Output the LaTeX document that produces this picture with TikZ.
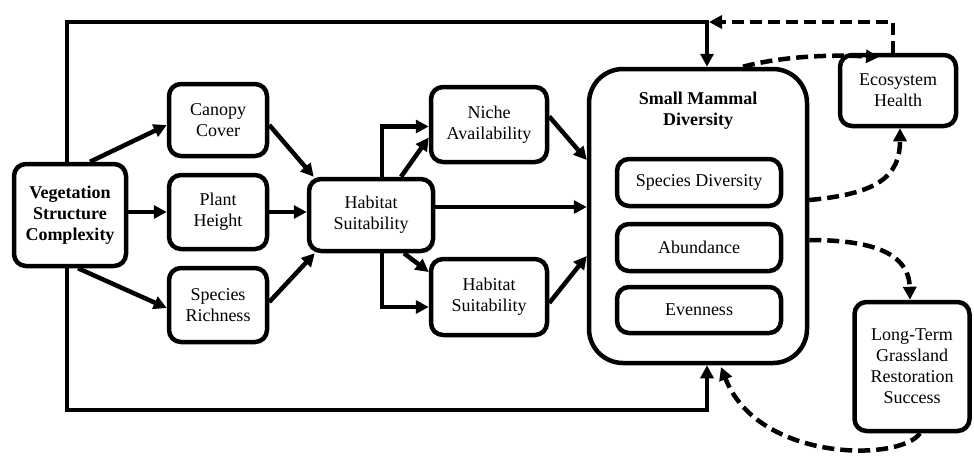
\documentclass[tikz,border=0pt]{standalone}
\usepackage{fontspec}
\setmainfont{Liberation Serif}
\usetikzlibrary{arrows.meta,calc}
\begin{document}
\begin{tikzpicture}[x=1pt,y=-1pt,
  box/.style={draw, line width=4.5pt, rounded corners=12pt, align=center, inner sep=1pt,
    font=\fontsize{18}{21}\selectfont},
  bigbox/.style={draw, line width=4.5pt, rounded corners=34pt},
  arr/.style={line width=4.5pt, -{Triangle[length=13pt,width=13pt]}},
  darr/.style={line width=4.5pt, dash pattern=on 12pt off 6pt, -{Triangle[length=13pt,width=13pt]}},
  title/.style={align=center, font=\fontsize{18}{21}\selectfont\bfseries}
]
\useasboundingbox (0,0) rectangle (974,455);

% nodes
\node[box, minimum width=112pt, minimum height=102pt, font=\fontsize{18}{21}\selectfont\bfseries] (vsc) at (70,215) {Vegetation\\Structure\\Complexity};
\node[box, minimum width=98pt, minimum height=72pt] (canopy) at (218,120) {Canopy\\Cover};
\node[box, minimum width=98pt, minimum height=74pt] (plant) at (218,212) {Plant\\Height};
\node[box, minimum width=98pt, minimum height=74pt] (rich) at (218,305) {Species\\Richness};
\node[box, minimum width=124pt, minimum height=72pt] (hab) at (371,215) {Habitat\\Suitability};
\node[box, minimum width=116pt, minimum height=75pt] (niche) at (489,124.5) {Niche\\Availability};
\node[box, minimum width=116pt, minimum height=76pt] (hab2) at (489,297) {Habitat\\Suitability};
\node[bigbox, minimum width=218pt, minimum height=294pt] (smd) at (698,216) {};
\node[title] (smdt) at (698,111) {Small Mammal\\Diversity};
\node[box, minimum width=164pt, minimum height=47pt] (sd) at (699,182.5) {Species Diversity};
\node[box, minimum width=164pt, minimum height=47pt] (ab) at (699,247.5) {Abundance};
\node[box, minimum width=164pt, minimum height=46pt] (ev) at (699,310) {Evenness};
\node[box, minimum width=116pt, minimum height=71pt] (eh) at (898,90.5) {Ecosystem\\Health};
\node[box, minimum width=115pt, minimum height=129pt] (lt) at (912,366.5) {Long-Term\\Grassland\\Restoration\\Success};

\coordinate (topj) at (707,22);
\coordinate (botj) at (707,410);

% outer loop lines
\draw[arr] ([xshift=-3]vsc.north) |- (topj) -- (topj |- smd.north);
\draw[arr] ([xshift=-3]vsc.south) |- (botj) -- (botj |- smd.south);

% vegetation to attributes
\draw[arr] ([xshift=20]vsc.north) -- ([yshift=-5]canopy.west);
\draw[arr] (vsc.east |- plant.west) -- (plant.west);
\draw[arr] ([xshift=8]vsc.south) -- ([yshift=-3]rich.west);

% attributes to habitat
\draw[arr] ([yshift=-5]canopy.east) -- ([xshift=7]hab.north west);
\draw[arr] (plant.east) -- (plant.east -| hab.west);
\draw[arr] ([yshift=3]rich.east) -- ([xshift=8]hab.south west);

% habitat to niche / habitat2
\draw[arr] ([xshift=30]hab.north) -- ([yshift=-13]niche.west);
\draw[arr] ([xshift=11]hab.north) |- ([yshift=-2]niche.west);
\draw[arr] ([xshift=33]hab.south) -- ([yshift=25]hab2.west);
\draw[arr] ([xshift=11]hab.south) |- ([yshift=-10]hab2.west);

% to small mammal diversity
\draw[arr] ([yshift=8]hab.east) -- ([yshift=8]hab.east -| smd.west);
\draw[arr] ([yshift=8]niche.east) -- ([yshift=56]smd.west);
\draw[arr] ([yshift=-6]hab2.east) -- ([yshift=-40]smd.west);

% dashed feedbacks
\draw[darr] ([xshift=-5]eh.north) |- ([xshift=2]topj);
\draw[darr] (smd.north -| 743,0) .. controls (775,58) and (820,54) .. (879,57);
\draw[darr] ([yshift=16]smd.east) .. controls (875,194) and (900,178) .. ([xshift=2]eh.south);
\draw[darr] ([yshift=-24]smd.east) .. controls (870,240) and (909,252) .. ([xshift=-2]lt.north);
\draw[darr] ([xshift=8]lt.south) .. controls (900,462) and (758,462) .. (721,367);
\end{tikzpicture}
\end{document}
